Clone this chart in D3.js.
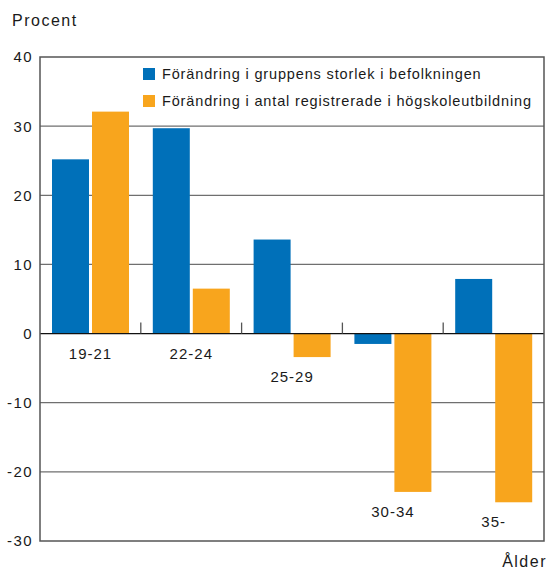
<!DOCTYPE html>
<html>
<head>
<meta charset="utf-8">
<script src="https://cdn.jsdelivr.net/npm/d3@7"></script>
<style>
  body { margin: 0; background: #fff; }
  text { font-family: "Liberation Sans", Arial, sans-serif; fill: #1a1a1a; }
</style>
</head>
<body>
<div id="app"></div>
<script>
let categories = ['19-21', '22-24', '25-29', '30-34', '35-'];
let befolkning = [25.2, 29.7, 13.6, -1.5, 7.9];
let registrerade = [32.1, 6.5, -3.4, -22.9, -24.4];
let seriesNames = ['Förändring i gruppens storlek i befolkningen',
                   'Förändring i antal registrerade i högskoleutbildning'];
let yTicks = [40, 30, 20, 10, 0, -10, -20, -30];
let colors = ['#0070b9', '#f8a51d'];

let width = 549;
let height = 571;
let margin = {top: 57, right: 5, bottom: 30, left: 40};
let plotW = width - margin.left - margin.right;
let plotH = height - margin.top - margin.bottom;

let svg = d3.select('#app').append('svg')
    .attr('width', width)
    .attr('height', height);

let yScale = d3.scaleLinear()
               .domain([-30, 40])
               .range([plotH, 0]);

let xScale = d3.scaleBand()
               .domain(categories)
               .range([0, plotW]);

let barW = 37;
let inner = 12;
let gap = 3;

let g = svg.append('g')
    .attr('transform', 'translate(' + margin.left + ',' + margin.top + ')');

// gridlines
g.selectAll('line.grid')
  .data(yTicks.filter(d => d !== 0 && d !== 40 && d !== -30))
  .enter().append('line')
    .attr('x1', 0)
    .attr('x2', plotW)
    .attr('y1', d => yScale(d))
    .attr('y2', d => yScale(d))
    .attr('stroke', '#6f6f6f')
    .attr('stroke-width', 1.3);

// y tick labels
g.selectAll('text.ytick')
  .data(yTicks)
  .enter().append('text')
    .attr('x', -7)
    .attr('y', d => yScale(d))
    .attr('dy', '0.36em')
    .attr('text-anchor', 'end')
    .style('font-size', '15px')
    .style('letter-spacing', '1.4px')
    .text(d => d);

// bars
let groups = g.selectAll('g.cat')
  .data(categories)
  .enter().append('g')
    .attr('transform', d => 'translate(' + xScale(d) + ',0)');

groups.append('rect')
    .attr('x', inner)
    .attr('width', barW)
    .attr('y', (d, i) => yScale(Math.max(0, befolkning[i])))
    .attr('height', (d, i) => Math.abs(yScale(befolkning[i]) - yScale(0)))
    .attr('fill', colors[0]);

groups.append('rect')
    .attr('x', inner + barW + gap)
    .attr('width', barW)
    .attr('y', (d, i) => yScale(Math.max(0, registrerade[i])))
    .attr('height', (d, i) => Math.abs(yScale(registrerade[i]) - yScale(0)))
    .attr('fill', colors[1]);

// category labels below lowest point
groups.append('text')
    .attr('x', inner + barW + gap / 2)
    .attr('y', (d, i) => yScale(Math.min(0, befolkning[i], registrerade[i])) + 25)
    .attr('text-anchor', 'middle')
    .style('font-size', '15px')
    .style('letter-spacing', '1px')
    .text(d => d);

// zero line
g.append('line')
    .attr('x1', 0).attr('x2', plotW)
    .attr('y1', yScale(0)).attr('y2', yScale(0))
    .attr('stroke', '#111')
    .attr('stroke-width', 1.3);

// category separator ticks
g.selectAll('line.sep')
  .data(categories.slice(1))
  .enter().append('line')
    .attr('x1', d => xScale(d)).attr('x2', d => xScale(d))
    .attr('y1', yScale(0) - 11).attr('y2', yScale(0))
    .attr('stroke', '#555')
    .attr('stroke-width', 1.3);

// frame
g.append('rect')
    .attr('x', 0).attr('y', 0)
    .attr('width', plotW).attr('height', plotH)
    .attr('fill', 'none')
    .attr('stroke', '#555')
    .attr('stroke-width', 1.5);

// legend
let legend = g.selectAll('g.legend')
  .data(seriesNames)
  .enter().append('g')
    .attr('transform', (d, i) => 'translate(103,' + (11 + i * 27) + ')');

legend.append('rect')
    .attr('width', 12).attr('height', 12)
    .attr('fill', (d, i) => colors[i]);

legend.append('text')
    .attr('x', 19)
    .attr('y', 6)
    .attr('dy', '0.36em')
    .style('font-size', '14.5px')
    .style('letter-spacing', '0.85px')
    .text(d => d);

// axis titles
svg.append('text')
    .attr('x', 12).attr('y', 26)
    .style('font-size', '16px')
    .style('letter-spacing', '1.5px')
    .text('Procent');

svg.append('text')
    .attr('x', 547).attr('y', 567)
    .attr('text-anchor', 'end')
    .style('font-size', '16px')
    .style('letter-spacing', '1.5px')
    .text('Ålder');
</script>
</body>
</html>
